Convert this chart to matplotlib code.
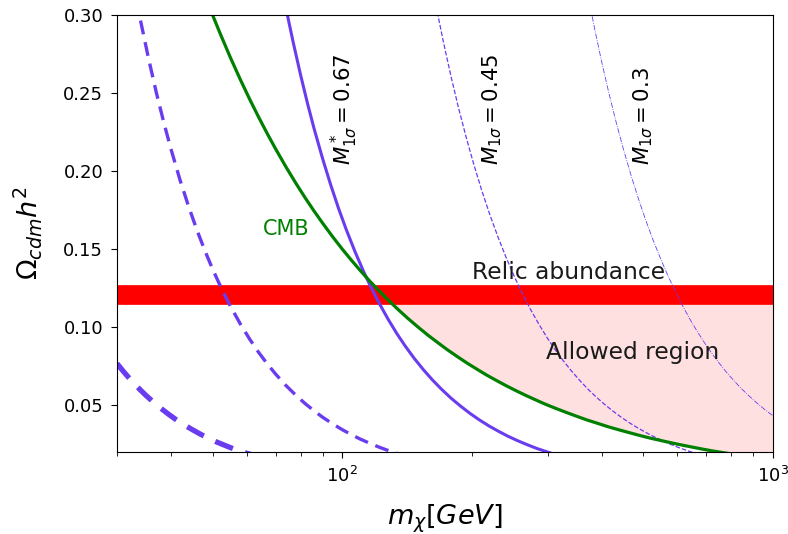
import numpy as np
import matplotlib
matplotlib.use("Agg")
import matplotlib.pyplot as plt

# ---- data ----
cmb_x = [48, 50, 52, 55, 58, 61, 64, 67, 70, 74, 78, 82, 86, 90, 95, 100, 105,
         110, 116, 122, 128, 135, 142, 150, 158, 166, 175, 185, 195, 205, 216,
         228, 240, 253, 266, 280, 295, 310, 330, 350, 370, 390, 415, 440, 465,
         490, 520, 550, 580, 615, 650, 690, 730, 770, 815, 860, 910, 960, 1000]
cmb_y = [0.3125, 0.300, 0.2885, 0.2727, 0.2586, 0.2459, 0.2344, 0.2239, 0.2143,
         0.2027, 0.1923, 0.1829, 0.1744, 0.1667, 0.1579, 0.150, 0.1429, 0.1364,
         0.1293, 0.1230, 0.1172, 0.1111, 0.1056, 0.100, 0.0949, 0.0904, 0.0857,
         0.0811, 0.0769, 0.0732, 0.0694, 0.0658, 0.0625, 0.0593, 0.0564, 0.0536,
         0.0508, 0.0484, 0.0455, 0.0429, 0.0405, 0.0385, 0.0361, 0.0341, 0.0323,
         0.0306, 0.0288, 0.0273, 0.0259, 0.0244, 0.0231, 0.0217, 0.0205, 0.0195,
         0.0184, 0.0174, 0.0165, 0.0156, 0.0150]

m067_x = [73, 75, 77, 80, 83, 86, 90, 94, 98, 102, 107, 112, 117, 122, 128, 134,
          140, 147, 154, 162, 170, 179, 188, 198, 208, 219, 230, 242, 255, 268,
          282, 297, 312]
m067_y = [0.3130, 0.2968, 0.2820, 0.2618, 0.2436, 0.2273, 0.2081, 0.1912, 0.1762,
          0.1630, 0.1485, 0.1358, 0.1247, 0.1150, 0.1047, 0.0957, 0.0879, 0.0799,
          0.0730, 0.0661, 0.0602, 0.0544, 0.0495, 0.0447, 0.0406, 0.0367, 0.0334,
          0.0302, 0.0273, 0.0248, 0.0224, 0.0203, 0.0184]

dash_x = [33, 34, 35.5, 37, 38.5, 40, 42, 44, 46, 48, 50, 52.5, 55, 58, 61, 64,
          67, 70, 74, 78, 82, 86, 90, 95, 100, 105, 110, 116, 122, 128, 135, 142]
dash_y = [0.3150, 0.2967, 0.2722, 0.2505, 0.2314, 0.2144, 0.1944, 0.1772, 0.1621,
          0.1489, 0.1372, 0.1244, 0.1134, 0.1020, 0.0922, 0.0837, 0.0764, 0.0700,
          0.0626, 0.0564, 0.0510, 0.0464, 0.0423, 0.0380, 0.0343, 0.0311, 0.0283,
          0.0255, 0.0230, 0.0209, 0.0188, 0.0170]

thick_x = [30, 31, 32, 33, 34, 35, 36.5, 38, 39.5, 41, 43, 45, 47, 49, 51, 53,
           55, 57.5, 60, 62.5, 65]
thick_y = [0.0767, 0.0718, 0.0674, 0.0634, 0.0597, 0.0563, 0.0518, 0.0478,
           0.0442, 0.0410, 0.0373, 0.0341, 0.0312, 0.0287, 0.0265, 0.0246,
           0.0228, 0.0209, 0.0192, 0.0177, 0.0163]

m045_x = [160, 166, 172, 179, 186, 194, 202, 211, 220, 230, 240, 251, 262, 274,
          286, 299, 312, 326, 341, 356, 372, 389, 406, 424, 443, 463, 484, 506,
          528, 552, 577, 603, 630, 658, 688, 720]
m045_y = [0.3256, 0.3025, 0.2818, 0.2602, 0.2409, 0.2215, 0.2043, 0.1872, 0.1722,
          0.1576, 0.1447, 0.1323, 0.1214, 0.1110, 0.1019, 0.0932, 0.0856, 0.0784,
          0.0717, 0.0658, 0.0602, 0.0551, 0.0506, 0.0464, 0.0425, 0.0389, 0.0356,
          0.0326, 0.0299, 0.0274, 0.0250, 0.0229, 0.0210, 0.0193, 0.0176, 0.0161]

m03_x = [370, 385, 400, 416, 433, 450, 468, 487, 506, 526, 547, 569, 592, 615,
         640, 665, 692, 720, 748, 778, 809, 841, 875, 910, 946, 984, 1000]
m03_y = [0.3158, 0.2917, 0.2702, 0.2498, 0.2306, 0.2135, 0.1974, 0.1823, 0.1688,
         0.1562, 0.1445, 0.1335, 0.1234, 0.1143, 0.1055, 0.0978, 0.0903, 0.0834,
         0.0773, 0.0714, 0.0661, 0.0611, 0.0565, 0.0522, 0.0483, 0.0446, 0.0432]

band_low, band_high = 0.1147, 0.1268
xlim = (30, 1000)
ylim = (0.02, 0.30)
yticks = [0.05, 0.10, 0.15, 0.20, 0.25, 0.30]

purple = "#6a3cf0"

fig = plt.figure(figsize=(7.88, 5.34), dpi=100)
ax = fig.add_axes([0.1485, 0.1536, 0.8325, 0.8183])

ax.plot(thick_x, thick_y, color=purple, lw=3.8, ls=(0, (3.6, 2.4)))
ax.plot(dash_x, dash_y, color=purple, lw=2.4, ls=(0, (4.2, 2.4)))
ax.plot(m067_x, m067_y, color=purple, lw=2.2, ls="-")
ax.plot(m045_x, m045_y, color=purple, lw=0.9, ls="--")
ax.plot(m03_x, m03_y, color=purple, lw=0.6, ls="-.")

ax.plot(cmb_x, cmb_y, color="green", lw=2.3)

ax.fill_between(xlim, band_low, band_high, color="red", lw=0.5)
cx = np.array(cmb_x, dtype=float)
cy = np.array(cmb_y, dtype=float)
ax.fill_between(cx, cy, band_low, where=cy <= band_low, interpolate=True,
                color="red", alpha=0.12, lw=0)

ax.set_xscale("log")
ax.set_xlim(*xlim)
ax.set_ylim(*ylim)
ax.set_yticks(yticks)
ax.tick_params(which="major", labelsize=13, length=4.5, pad=5.5)
ax.tick_params(which="minor", length=2.6)

ax.set_xlabel(r"$m_{\chi}[GeV]$", fontsize=19.5, labelpad=12)
ax.set_ylabel(r"$\Omega_{cdm}h^2$", fontsize=19.5, labelpad=14)

ax.text(74, 0.163, "CMB", color="green", fontsize=15, ha="center", va="center")
ax.text(200, 0.1275, "Relic abundance", fontsize=16.8, ha="left", va="bottom",
        color="#1a1a1a")
ax.text(297, 0.084, "Allowed region", fontsize=16.8, ha="left", va="center",
        color="#1a1a1a")

ax.text(101, 0.204, r"$M^*_{1\sigma}=0.67$", rotation=90, fontsize=15.3,
        ha="center", va="bottom")
ax.text(223, 0.204, r"$M_{1\sigma}=0.45$", rotation=90, fontsize=15.3,
        ha="center", va="bottom")
ax.text(499, 0.204, r"$M_{1\sigma}=0.3$", rotation=90, fontsize=15.3,
        ha="center", va="bottom")

fig.savefig("out.png", dpi=100)
